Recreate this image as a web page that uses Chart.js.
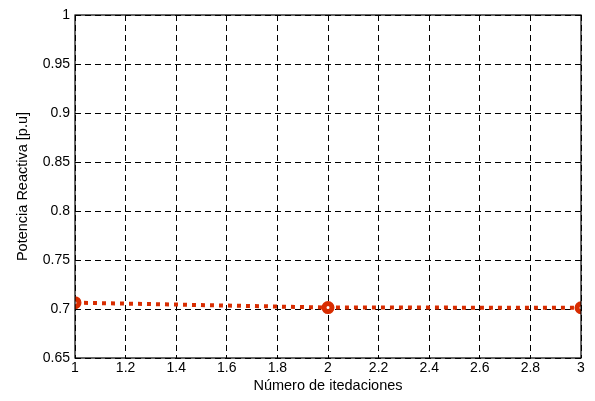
<!DOCTYPE html>
<html>
<head>
<meta charset="utf-8">
<script src="https://cdn.jsdelivr.net/npm/chart.js@4/dist/chart.umd.min.js"></script>
<style>
  html, body { margin: 0; padding: 0; background: #fff; }
  #wrap { width: 595px; height: 401px; }
</style>
</head>
<body>
<div id="wrap"><canvas id="reactiveChart" width="595" height="401"></canvas></div>
<script>
// Data
const iterations = [1, 2, 3];
const reactivePower = [0.7065, 0.7015, 0.7013];
const xTicks = [1, 1.2, 1.4, 1.6, 1.8, 2, 2.2, 2.4, 2.6, 2.8, 3];
const yTicks = [0.65, 0.7, 0.75, 0.8, 0.85, 0.9, 0.95, 1];

document.addEventListener('DOMContentLoaded', function() {
  const ctx = document.getElementById('reactiveChart').getContext('2d');
  const family = 'Liberation Sans, Arial, sans-serif';
  const tickFont = { family: family, size: 14 };
  const titleFont = { family: family, size: 14.5 };

  // draws the black box round the plot, like matlab
  const boxPlugin = {
    id: 'box',
    afterDraw(chart) {
      const a = chart.chartArea;
      const c = chart.ctx;
      c.save();
      c.strokeStyle = '#000';
      c.lineWidth = 1.2;
      c.setLineDash([]);
      c.strokeRect(a.left, a.top, a.right - a.left, a.bottom - a.top);
      c.restore();
    }
  };

  const gridOpts = {
    color: '#000',
    lineWidth: 1,
    drawTicks: false
  };

  new Chart(ctx, {
    type: 'line',
    data: {
      datasets: [{
        label: 'Potencia Reactiva',
        data: iterations.map((x, i) => ({ x: x, y: reactivePower[i] })),
        borderColor: '#d82c00',
        borderWidth: 4,
        borderDash: [4, 5],
        pointRadius: 4,
        pointBorderWidth: 5,
        pointBackgroundColor: '#ffffff',
        pointBorderColor: '#d82c00',
        tension: 0
      }]
    },
    plugins: [boxPlugin],
    options: {
      responsive: false,
      animation: false,
      layout: { padding: { top: 15, right: 14, left: 0, bottom: 0 } },
      plugins: { legend: { display: false }, tooltip: { enabled: false } },
      scales: {
        x: {
          type: 'linear',
          min: 1,
          max: 3,
          afterBuildTicks: s => { s.ticks = xTicks.map(v => ({ value: v })); },
          afterFit: s => { s.height = 43; },
          border: { display: false, dash: [6, 4] },
          grid: gridOpts,
          ticks: {
            color: '#000',
            font: tickFont,
            padding: 2,
            maxRotation: 0,
            callback: v => String(+v.toFixed(1))
          },
          title: {
            display: true,
            text: 'Número de itedaciones',
            color: '#000',
            font: titleFont,
            padding: { top: 0, bottom: 6 }
          }
        },
        y: {
          min: 0.65,
          max: 1,
          afterBuildTicks: s => { s.ticks = yTicks.map(v => ({ value: v })); },
          afterFit: s => { s.width = 75; },
          border: { display: false, dash: [6, 4] },
          grid: gridOpts,
          ticks: {
            color: '#000',
            font: tickFont,
            padding: 5,
            callback: v => String(+v.toFixed(2))
          },
          title: {
            display: true,
            text: 'Potencia Reactiva [p.u]',
            color: '#000',
            font: titleFont,
            padding: { top: 14, bottom: 0 }
          }
        }
      }
    }
  });
});
</script>
</body>
</html>
